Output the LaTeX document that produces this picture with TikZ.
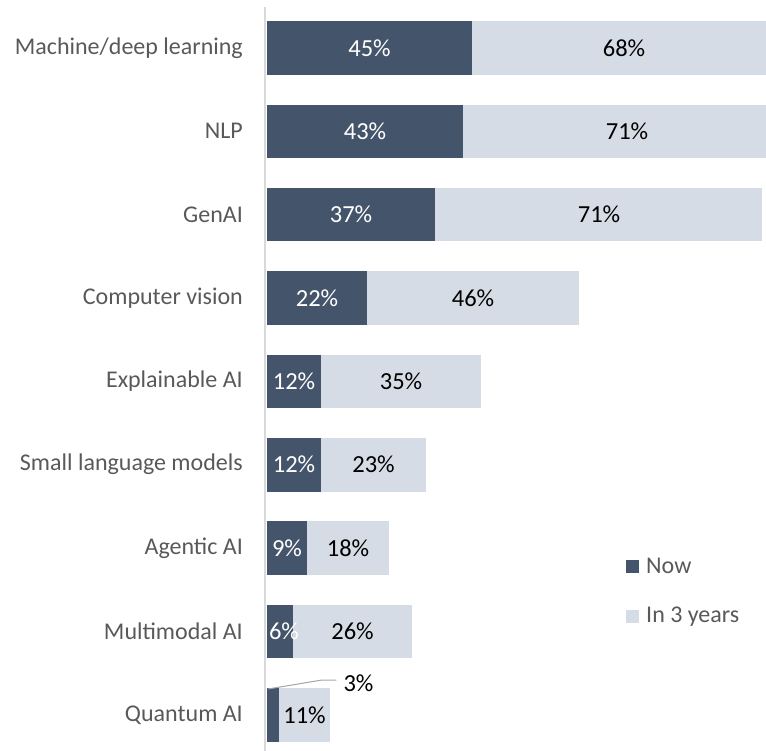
\documentclass[tikz,border=0pt]{standalone}
\usepackage{fontspec}
\setmainfont{Carlito}
\definecolor{nowc}{HTML}{44546A}
\definecolor{latc}{HTML}{D6DCE5}
\definecolor{catc}{HTML}{595959}
\definecolor{axisc}{HTML}{D9D9D9}
\definecolor{leadc}{HTML}{A6A6A6}
\begin{document}
\begin{tikzpicture}[x=1pt,y=-1pt,
  seg/.style={rectangle, inner sep=0pt, minimum height=53.5pt, anchor=north west},
  nowseg/.style={seg, fill=nowc},
  latseg/.style={seg, fill=latc},
  catlab/.style={anchor=east, text=catc, font=\fontsize{24}{28}\selectfont, inner sep=0pt},
  vallab/.style={font=\fontsize{24.5}{28}\selectfont, inner sep=0pt},
  nowlab/.style={vallab, text=white},
  latlab/.style={vallab, text=black},
  legbox/.style={rectangle, inner sep=0pt, minimum width=13pt, minimum height=13pt},
  legtext/.style={anchor=west, text=catc, font=\fontsize{24}{28}\selectfont, inner sep=0pt}]
\useasboundingbox (0,0) rectangle (766,751);
\draw[axisc, line width=1.5pt] (265,7) -- (265,751);
\foreach \i/\nm/\d/\l/\dv/\lv/\dx/\lx in {
  0/{Machine/deep learning}/472/766/45/68/369.5/624,
  1/NLP/463/766/43/71/365/627,
  2/GenAI/435/762/37/71/351/599,
  3/Computer vision/367/579/22/46/317/473,
  4/Explainable AI/321/481/12/35/294/401,
  5/Small language models/321/426/12/23/294/373.5,
  6/Agentic AI/307/389/9/18/287/348,
  7/Multimodal AI/293/412/6/26/284/352.5}{
  \pgfmathsetmacro{\rtop}{21+83.375*\i}
  \pgfmathsetmacro{\rmid}{\rtop+26.75}
  \pgfmathsetmacro{\dw}{\d-267}
  \pgfmathsetmacro{\lw}{\l-\d}
  \node[nowseg, minimum width=\dw pt] (now\i) at (267,\rtop) {};
  \node[latseg, minimum width=\lw pt] (lat\i) at (\d,\rtop) {};
  \node[catlab] (cat\i) at (243,\rmid) {\nm};
  \node[nowlab] (nowv\i) at (\dx,\rmid) {\dv\%};
  \node[latlab] (latv\i) at (\lx,\rmid) {\lv\%};
}
% Quantum AI row
\node[nowseg, minimum width=12pt] (now8) at (267,688) {};
\node[latseg, minimum width=51pt] (lat8) at (279,688) {};
\node[catlab] (cat8) at (243,715) {Quantum AI};
\node[latlab] (latv8) at (304.5,715) {11\%};
\node[latlab] (nowv8) at (358.5,683) {3\%};
\coordinate (lead8) at (268,689);
\coordinate (bend8) at (322,680);
\draw[leadc, line width=1pt] (lead8) -- (bend8) -- ([xshift=-7pt]nowv8.west |- bend8);
% legend
\node[legbox, fill=nowc] (legnow) at (632.5,566) {};
\node[legtext] (legnowt) at (646,566) {Now};
\node[legbox, fill=latc] (leglat) at (632.5,616.5) {};
\node[legtext] (leglatt) at (646,617) {In 3 years};
\end{tikzpicture}
\end{document}
